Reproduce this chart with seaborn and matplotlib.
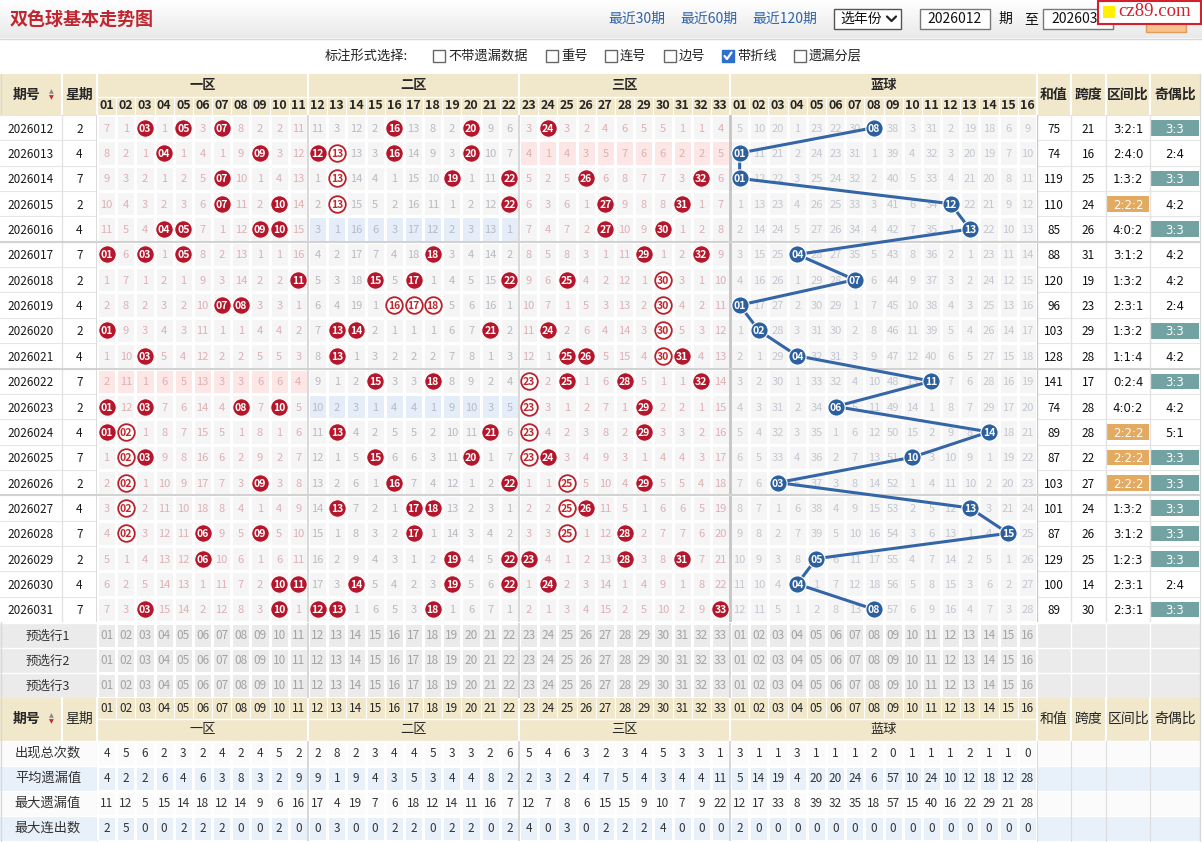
import numpy as np
import pandas as pd
import matplotlib
matplotlib.use("Agg")
import matplotlib.pyplot as plt
from matplotlib.patches import Rectangle
from matplotlib.colors import ListedColormap, LinearSegmentedColormap
import seaborn as sns

sns.set_theme(style="white")
plt.rcParams["font.family"] = ["Noto Sans CJK SC", "DejaVu Sans"]
plt.rcParams["axes.unicode_minus"] = False

# ---------------------------------------------------------------- data
periods = ["2026012", "2026013", "2026014", "2026015", "2026016",
           "2026017", "2026018", "2026019", "2026020", "2026021",
           "2026022", "2026023", "2026024", "2026025", "2026026",
           "2026027", "2026028", "2026029", "2026030", "2026031"]
weekdays = [2, 4, 7, 2, 4, 7, 2, 4, 2, 4, 7, 2, 4, 7, 2, 4, 7, 2, 4, 7]

# red ball omission values 01..33 (0 = drawn in that period)
red_omission = [
    "7 1 0 1 0 3 0 8 2 2 11  11 3 12 2 0 13 8 2 0 9 6  3 0 3 2 4 6 5 5 1 1 4",
    "8 2 1 0 1 4 1 9 0 3 12  0 0 13 3 0 14 9 3 0 10 7  4 1 4 3 5 7 6 6 2 2 5",
    "9 3 2 1 2 5 0 10 1 4 13  1 0 14 4 1 15 10 0 1 11 0  5 2 5 0 6 8 7 7 3 0 6",
    "10 4 3 2 3 6 0 11 2 0 14  2 0 15 5 2 16 11 1 2 12 0  6 3 6 1 0 9 8 8 0 1 7",
    "11 5 4 0 0 7 1 12 0 0 15  3 1 16 6 3 17 12 2 3 13 1  7 4 7 2 0 10 9 0 1 2 8",
    "0 6 0 1 0 8 2 13 1 1 16  4 2 17 7 4 18 0 3 4 14 2  8 5 8 3 1 11 0 1 2 0 9",
    "1 7 1 2 1 9 3 14 2 2 0  5 3 18 0 5 0 1 4 5 15 0  9 6 0 4 2 12 1 0 3 1 10",
    "2 8 2 3 2 10 0 0 3 3 1  6 4 19 1 0 0 0 5 6 16 1  10 7 1 5 3 13 2 0 4 2 11",
    "0 9 3 4 3 11 1 1 4 4 2  7 0 0 2 1 1 1 6 7 0 2  11 0 2 6 4 14 3 0 5 3 12",
    "1 10 0 5 4 12 2 2 5 5 3  8 0 1 3 2 2 2 7 8 1 3  12 1 0 0 5 15 4 0 0 4 13",
    "2 11 1 6 5 13 3 3 6 6 4  9 1 2 0 3 3 0 8 9 2 4  0 2 0 1 6 0 5 1 1 0 14",
    "0 12 0 7 6 14 4 0 7 0 5  10 2 3 1 4 4 1 9 10 3 5  0 3 1 2 7 1 0 2 2 1 15",
    "0 0 1 8 7 15 5 1 8 1 6  11 0 4 2 5 5 2 10 11 0 6  0 4 2 3 8 2 0 3 3 2 16",
    "1 0 0 9 8 16 6 2 9 2 7  12 1 5 0 6 6 3 11 0 1 7  0 0 3 4 9 3 1 4 4 3 17",
    "2 0 1 10 9 17 7 3 0 3 8  13 2 6 1 0 7 4 12 1 2 0  1 1 0 5 10 4 0 5 5 4 18",
    "3 0 2 11 10 18 8 4 1 4 9  14 0 7 2 1 0 0 13 2 3 1  2 2 0 0 11 5 1 6 6 5 19",
    "4 0 3 12 11 0 9 5 0 5 10  15 1 8 3 2 0 1 14 3 4 2  3 3 0 1 12 0 2 7 7 6 20",
    "5 1 4 13 12 0 10 6 1 6 11  16 2 9 4 3 1 2 0 4 5 0  0 4 1 2 13 0 3 8 0 7 21",
    "6 2 5 14 13 1 11 7 2 0 0  17 3 0 5 4 2 3 0 5 6 0  1 0 2 3 14 1 4 9 1 8 22",
    "7 3 0 15 14 2 12 8 3 0 1  0 0 1 6 5 3 0 1 6 7 1  2 1 3 4 15 2 5 10 2 9 0",
]
# blue ball omission values 01..16 (0 = drawn)
blue_omission = [
    "5 10 20 1 23 22 30 0 38 3 31 2 19 18 6 9",
    "0 11 21 2 24 23 31 1 39 4 32 3 20 19 7 10",
    "0 12 22 3 25 24 32 2 40 5 33 4 21 20 8 11",
    "1 13 23 4 26 25 33 3 41 6 34 0 22 21 9 12",
    "2 14 24 5 27 26 34 4 42 7 35 1 0 22 10 13",
    "3 15 25 0 28 27 35 5 43 8 36 2 1 23 11 14",
    "4 16 26 1 29 28 0 6 44 9 37 3 2 24 12 15",
    "0 17 27 2 30 29 1 7 45 10 38 4 3 25 13 16",
    "1 0 28 3 31 30 2 8 46 11 39 5 4 26 14 17",
    "2 1 29 0 32 31 3 9 47 12 40 6 5 27 15 18",
    "3 2 30 1 33 32 4 10 48 13 0 7 6 28 16 19",
    "4 3 31 2 34 0 5 11 49 14 1 8 7 29 17 20",
    "5 4 32 3 35 1 6 12 50 15 2 9 8 0 18 21",
    "6 5 33 4 36 2 7 13 51 0 3 10 9 1 19 22",
    "7 6 0 5 37 3 8 14 52 1 4 11 10 2 20 23",
    "8 7 1 6 38 4 9 15 53 2 5 12 0 3 21 24",
    "9 8 2 7 39 5 10 16 54 3 6 13 1 4 0 25",
    "10 9 3 8 0 6 11 17 55 4 7 14 2 5 1 26",
    "11 10 4 0 1 7 12 18 56 5 8 15 3 6 2 27",
    "12 11 5 1 2 8 13 0 57 6 9 16 4 7 3 28",
]
# balls drawn with a hollow (ring) marker
repeat_marks = {"2026013": [13], "2026014": [13], "2026015": [13],
                "2026018": [30], "2026019": [16, 17, 18, 30],
                "2026020": [30], "2026021": [30], "2026022": [23],
                "2026023": [23], "2026024": [2, 23], "2026025": [2, 23],
                "2026026": [2, 25], "2026027": [2, 25], "2026028": [2, 25]}

sum_values = [75, 74, 119, 110, 85, 88, 120, 96, 103, 128,
              141, 74, 89, 87, 103, 101, 87, 129, 100, 89]
span_values = [21, 16, 25, 24, 26, 31, 19, 23, 29, 28,
               17, 28, 28, 22, 27, 24, 26, 25, 14, 30]
zone_ratio = ["3:2:1", "2:4:0", "1:3:2", "2:2:2", "4:0:2", "3:1:2", "1:3:2",
              "2:3:1", "1:3:2", "1:1:4", "0:2:4", "4:0:2", "2:2:2", "2:2:2",
              "2:2:2", "1:3:2", "3:1:2", "1:2:3", "2:3:1", "2:3:1"]
odd_even = ["3:3", "2:4", "3:3", "4:2", "3:3", "4:2", "4:2", "2:4", "3:3",
            "4:2", "3:3", "4:2", "5:1", "3:3", "3:3", "3:3", "3:3", "3:3",
            "2:4", "3:3"]

red_labels = ["%02d" % i for i in range(1, 34)]
blue_labels = ["%02d" % i for i in range(1, 17)]
col_labels = red_labels + blue_labels
zone_names = ["一区", "二区", "三区", "蓝球"]

stat_names = ["出现总次数", "平均遗漏值", "最大遗漏值", "最大连出数"]
stat_appear = "4 5 6 2 3 2 4 2 4 5 2 2 8 2 3 4 4 5 3 3 2 6 5 4 6 3 2 3 4 5 3 3 1 3 1 1 3 1 1 1 2 0 1 1 1 2 1 1 0"
stat_avg = "4 2 2 6 4 6 3 8 3 2 9 9 1 9 4 3 5 3 4 4 8 2 2 3 2 4 7 5 4 3 4 4 11 5 14 19 4 20 20 24 6 57 10 24 10 12 18 12 28"
stat_maxomit = "11 12 5 15 14 18 12 14 9 6 16 17 4 19 7 6 18 12 14 11 16 7 12 7 8 6 15 15 9 10 7 9 22 12 17 33 8 39 32 35 18 57 15 40 16 22 29 21 28"
stat_maxrun = "2 5 0 0 2 2 2 0 0 2 0 0 3 0 0 2 2 0 2 2 0 2 4 0 3 0 2 2 2 4 0 0 0 2 0 0 0 0 0 0 0 0 0 0 0 0 0 0 0"
preselect_names = ["预选行1", "预选行2", "预选行3"]
right_heads = ["和值", "跨度", "区间比", "奇偶比"]

# ---------------------------------------------------------------- layout / style
W, H = 1202, 842
GX0, GX1, TX1 = 97, 1037, 1200
Y0, Y1 = 115, 622
NR, NC = len(periods), len(col_labels)
RCOLS = [(1037, 1071), (1071, 1106), (1106, 1150), (1150, 1200)]
ZONES = [(0, 11), (11, 22), (22, 33), (33, 49)]
BEIGE = "#f1e7cb"
RED = "#b5162b"
BLUE = "#2c5f9e"
LINE = "#d2d2d2"

red = np.array([[int(v) for v in s.split()] for s in red_omission])
blue = np.array([[int(v) for v in s.split()] for s in blue_omission])
omit = np.hstack([red, blue])

fig = plt.figure(figsize=(W / 100, H / 100), dpi=100)
fig.patch.set_facecolor("white")


def box(x0, y0, x1, y1):
    return [x0 / W, 1 - y1 / H, (x1 - x0) / W, (y1 - y0) / H]


def clean(ax):
    ax.set_xlabel("")
    ax.set_ylabel("")
    ax.set_xticks([])
    ax.set_yticks([])
    for s in ax.spines.values():
        s.set_visible(False)


# ---------------- page background axes
pg = fig.add_axes([0, 0, 1, 1], zorder=0)
grad = np.linspace(0, 1, 60).reshape(-1, 1)
pg.imshow(grad, extent=(0, W, 38, 0), aspect="auto", zorder=0,
          cmap=LinearSegmentedColormap.from_list("g", ["#ffffff", "#e9e9e9"]))
pg.set_xlim(0, W)
pg.set_ylim(H, 0)
pg.axis("off")
pg.plot([0, W], [38.5, 38.5], color="#d6d6d6", lw=1)

pg.text(10, 19, "双色球基本走势图", color="#c0262f", fontsize=13,
        fontweight="bold", va="center")
for x, t in [(608, "最近30期"), (680, "最近60期"), (752, "最近120期")]:
    pg.text(x, 19, t, color="#2f62a5", fontsize=10, va="center")
pg.add_patch(Rectangle((834, 9), 67, 20, fc="white", ec="#555555", lw=1))
pg.text(840, 19, "选年份", fontsize=10, va="center", color="#111111")
pg.plot([887, 891.5, 896], [16.5, 21, 16.5], color="#222222", lw=1.6)
pg.add_patch(Rectangle((920, 9), 70, 20, fc="white", ec="#777777", lw=1))
pg.text(955, 19, "2026012", fontsize=10, va="center", ha="center", color="#111111")
pg.text(998, 19, "期", fontsize=10, va="center", color="#111111")
pg.text(1024, 19, "至", fontsize=10, va="center", color="#111111")
pg.add_patch(Rectangle((1043, 9), 70, 20, fc="white", ec="#777777", lw=1))
pg.text(1078, 19, "2026031", fontsize=10, va="center", ha="center", color="#111111")
pg.add_patch(Rectangle((1146, 12), 40, 20, fc="#f7c28c", ec="#e09a5a", lw=1))
pg.add_patch(Rectangle((1098, 0.5), 103, 23, fc="white", ec="#d4202c", lw=1.5, zorder=5))
pg.add_patch(Rectangle((1103, 6), 12, 12, fc="#fff000", ec="none", zorder=6))
pg.text(1118, 12, "cz89.com", fontsize=13.5, family="Liberation Serif",
        color="#d4202c", va="center", zorder=6)

# option bar
pg.text(325, 56, "标注形式选择:", fontsize=9.5, va="center", color="#222222")
opts = [(433, "不带遗漏数据", False), (546, "重号", False), (605, "连号", False),
        (664, "边号", False), (722, "带折线", True), (794, "遗漏分层", False)]
for x, t, chk in opts:
    pg.add_patch(Rectangle((x, 50), 12, 12, fc="#2f6fd0" if chk else "white",
                           ec="#2f6fd0" if chk else "#666666", lw=1))
    if chk:
        pg.plot([x + 2.5, x + 5, x + 9.5], [56, 59, 52.5], color="white", lw=1.6)
    pg.text(x + 15, 56, t, fontsize=9.5, va="center", color="#222222")

# ---------------- top header
pg.add_patch(Rectangle((0, 74), TX1, 41, fc=BEIGE, ec="none"))
for x in [62, 97, 1037, 1071, 1106, 1150]:
    pg.plot([x, x], [74, 115], color="white", lw=1.5)
pg.text(27, 95, "期号", fontsize=10, fontweight="bold", ha="center", va="center")
pg.text(51, 92, "▲", fontsize=4.5, color="#888888", ha="center", va="center", family="DejaVu Sans")
pg.text(51, 98, "▼", fontsize=4.5, color="#c0262f", ha="center", va="center", family="DejaVu Sans")
pg.text(79.5, 95, "星期", fontsize=10, fontweight="bold", ha="center", va="center")
for (a, b), t in zip(RCOLS, right_heads):
    pg.text((a + b) / 2, 95, t, fontsize=10, fontweight="bold", ha="center", va="center")

axH = fig.add_axes(box(GX0, 74, GX1, 115))
axH.set_xlim(0, NC)
axH.set_ylim(41, 0)
axH.patch.set_alpha(0)
clean(axH)
for (a, b), t in zip(ZONES, zone_names):
    axH.text((a + b) / 2, 11, t, fontsize=9.5, fontweight="bold", ha="center", va="center")
    axH.axvline(a, color="white", lw=1.5)
axH.plot([0, NC], [22.5, 22.5], color="white", lw=1)
for j, lab in enumerate(col_labels):
    axH.text(j + 0.5, 31.5, lab, fontsize=9, fontweight="bold", ha="center", va="center")
    axH.plot([j, j], [23, 41], color="white", lw=0.8)

# ---------------- main grid (seaborn heatmap for cell backgrounds)
bg = np.zeros((NR, NC))
for i in range(NR):
    for z, (a, b) in enumerate(ZONES[:3]):
        if (omit[i, a:b] > 0).all():
            bg[i, a:b] = 2 if z == 1 else 1
ax = fig.add_axes(box(GX0, Y0, GX1, Y1))
sns.heatmap(pd.DataFrame(bg, index=periods, columns=col_labels), ax=ax,
            cmap=ListedColormap(["#f5f5f5", "#fce6e6", "#e5edf8"]),
            vmin=-0.5, vmax=2.5, cbar=False, linewidths=0.8, linecolor="white",
            xticklabels=False, yticklabels=False)

zone_txt = ["#deb0b3", "#b9bac3", "#deb0b3", "#c3c7d0"]
for i in range(NR):
    for j in range(NC):
        v = omit[i, j]
        if v > 0:
            z = 0 if j < 11 else 1 if j < 22 else 2 if j < 33 else 3
            ax.text(j + 0.5, i + 0.5, str(v), ha="center", va="center_baseline",
                    fontsize=8, color=zone_txt[z])

solid, hollow, bluep = [], [], []
for i, p in enumerate(periods):
    for j in range(33):
        if red[i, j] == 0:
            rec = {"x": j + 0.5, "y": i + 0.5, "lab": red_labels[j]}
            (hollow if (j + 1) in repeat_marks.get(p, []) else solid).append(rec)
    for j in range(16):
        if blue[i, j] == 0:
            bluep.append({"x": 33 + j + 0.5, "y": i + 0.5, "lab": blue_labels[j]})
solid, hollow, bluep = pd.DataFrame(solid), pd.DataFrame(hollow), pd.DataFrame(bluep)

for a in [11, 22]:
    ax.axvline(a, color=LINE, lw=1.2, zorder=2)
ax.axvline(33, color="#c4c4c4", lw=2, zorder=2)
for r in [5, 10, 15]:
    ax.axhline(r, color=LINE, lw=1.5, zorder=2)

sns.lineplot(data=bluep, x="x", y="y", sort=False, estimator=None, ax=ax,
             color="#3465a6", lw=2.2, zorder=3)
BALL = 155
sns.scatterplot(data=solid, x="x", y="y", ax=ax, s=BALL, color=RED,
                edgecolor="white", linewidth=0.6, zorder=4, legend=False)
sns.scatterplot(data=hollow, x="x", y="y", ax=ax, s=BALL * 0.92, color="white",
                edgecolor="#b8202c", linewidth=1.3, zorder=4, legend=False)
sns.scatterplot(data=bluep, x="x", y="y", ax=ax, s=BALL, color=BLUE,
                edgecolor="white", linewidth=0.8, zorder=4, legend=False)
for df, c in [(solid, "white"), (hollow, "#c0282d"), (bluep, "white")]:
    for _, r in df.iterrows():
        ax.text(r.x, r.y, r.lab, ha="center", va="center_baseline", fontsize=7.5,
                fontweight="bold", color=c, zorder=5)
ax.set_xlim(0, NC)
ax.set_ylim(NR, 0)
clean(ax)

# ---------------- left columns
axL = fig.add_axes(box(0, Y0, GX0, Y1))
axL.set_xlim(0, GX0)
axL.set_ylim(NR, 0)
clean(axL)
axL.set_facecolor("white")
for i in range(NR + 1):
    axL.axhline(i, color="#e6e6e6", lw=0.8)
axL.axvline(62, color="#e2e2e2", lw=1)
axL.axvline(GX0, color="#d6d6d6", lw=1.2)
for r in [5, 10, 15]:
    axL.axhline(r, color=LINE, lw=1.5)
for i, (p, w) in enumerate(zip(periods, weekdays)):
    axL.text(31, i + 0.5, p, ha="center", va="center_baseline", fontsize=8.5, color="#1a1a1a")
    axL.text(79.5, i + 0.5, str(w), ha="center", va="center_baseline", fontsize=8.5, color="#1a1a1a")

# ---------------- right columns
axR = fig.add_axes(box(GX1, Y0, TX1, Y1))
axR.set_xlim(GX1, TX1)
axR.set_ylim(NR, 0)
clean(axR)
axR.set_facecolor("white")
for i in range(NR + 1):
    axR.axhline(i, color="#e6e6e6", lw=0.8)
for a, b in RCOLS:
    axR.axvline(a, color="#e2e2e2", lw=1)
axR.axvline(GX1, color="#c8c8c8", lw=1.5)
for r in [5, 10, 15]:
    axR.axhline(r, color=LINE, lw=1.5)
for i in range(NR):
    cols = [str(sum_values[i]), str(span_values[i]), zone_ratio[i], odd_even[i]]
    for k, ((a, b), t) in enumerate(zip(RCOLS, cols)):
        color = "#111111"
        if (k == 2 and t == "2:2:2") or (k == 3 and t == "3:3"):
            axR.add_patch(Rectangle((a + 0.5, i + 0.2), b - a - 1.5, 0.62,
                                    fc="#e3aa62" if k == 2 else "#73a2a2", ec="none"))
            color = "white"
        fam = "DejaVu Sans" if k >= 2 else None
        axR.text((a + b) / 2, i + 0.5, t, ha="center", va="center_baseline",
                 fontsize=8.5, color=color, family=fam)

# ---------------- preselect rows
pg.add_patch(Rectangle((0, 623), TX1, 75, fc="#ebebeb", ec="none"))
for k, t in enumerate(preselect_names):
    pg.text(48, 636 + 25 * k, t, ha="center", va="center", fontsize=9, color="#333333")
    pg.plot([0, TX1], [623 + 25 * k, 623 + 25 * k], color="white", lw=1)
for x in [97, 1037, 1071, 1106, 1150]:
    pg.plot([x, x], [623, 698], color="white", lw=1)
axP = fig.add_axes(box(GX0, 623, GX1, 698))
sns.heatmap(np.zeros((3, NC)), ax=axP, annot=np.array([col_labels] * 3), fmt="",
            cmap=ListedColormap(["#ebebeb"]), cbar=False, linewidths=0.8,
            linecolor="white", annot_kws={"color": "#a3a3a3", "fontsize": 8.5},
            xticklabels=False, yticklabels=False)
clean(axP)

# ---------------- bottom header
pg.add_patch(Rectangle((0, 698), TX1, 43, fc=BEIGE, ec="none"))
for x in [62, 97, 1037, 1071, 1106, 1150]:
    pg.plot([x, x], [698, 741], color="white", lw=1.5)
pg.text(27, 719, "期号", fontsize=10, fontweight="bold", ha="center", va="center")
pg.text(51, 716, "▲", fontsize=4.5, color="#888888", ha="center", va="center", family="DejaVu Sans")
pg.text(51, 722, "▼", fontsize=4.5, color="#c0262f", ha="center", va="center", family="DejaVu Sans")
pg.text(79.5, 719, "星期", fontsize=10, ha="center", va="center")
for (a, b), t in zip(RCOLS, right_heads):
    pg.text((a + b) / 2, 719, t, fontsize=10, ha="center", va="center")
axB = fig.add_axes(box(GX0, 698, GX1, 741))
axB.set_xlim(0, NC)
axB.set_ylim(43, 0)
axB.patch.set_alpha(0)
clean(axB)
for j, lab in enumerate(col_labels):
    axB.text(j + 0.5, 10, lab, fontsize=8.5, ha="center", va="center")
    axB.plot([j, j], [0, 20], color="white", lw=0.8)
axB.plot([0, NC], [20.5, 20.5], color="white", lw=1)
for (a, b), t in zip(ZONES, zone_names):
    axB.text((a + b) / 2, 32, t, fontsize=9.5, ha="center", va="center")
    axB.axvline(a, color="white", lw=1.5)

# ---------------- statistics rows
stats = np.array([[int(v) for v in s.split()]
                  for s in [stat_appear, stat_avg, stat_maxomit, stat_maxrun]])
stripe_cols = ["#fbfbfb", "#e8f0f9"]
for k, t in enumerate(stat_names):
    pg.add_patch(Rectangle((0, 741 + 25 * k), TX1, 25, fc=stripe_cols[k % 2], ec="none"))
    pg.text(48, 753.5 + 25 * k, t, ha="center", va="center", fontsize=9.5, color="#333333")
    pg.plot([0, TX1], [741 + 25 * k, 741 + 25 * k], color="white", lw=1)
for x in [97, 1037, 1071, 1106, 1150]:
    pg.plot([x, x], [741, 841], color="#dddddd", lw=0.8)
axS = fig.add_axes(box(GX0, 741, GX1, 841))
sns.heatmap(np.array([[k % 2] * NC for k in range(4)]), ax=axS, annot=stats, fmt="d",
            cmap=ListedColormap(stripe_cols), vmin=0, vmax=1, cbar=False,
            linewidths=0.8, linecolor="white",
            annot_kws={"color": "#333333", "fontsize": 8.5},
            xticklabels=False, yticklabels=False)
clean(axS)
for a in [11, 22, 33]:
    for axx in (axS, axP):
        axx.axvline(a, color="#d0d0d0", lw=1.2)

# outer frame lines
pg.plot([0.5, 0.5], [74, 841], color="#d8d8d8", lw=1, zorder=10)
pg.plot([TX1, TX1], [74, 841], color="#d8d8d8", lw=1, zorder=10)

fig.savefig("out.png", dpi=100)
